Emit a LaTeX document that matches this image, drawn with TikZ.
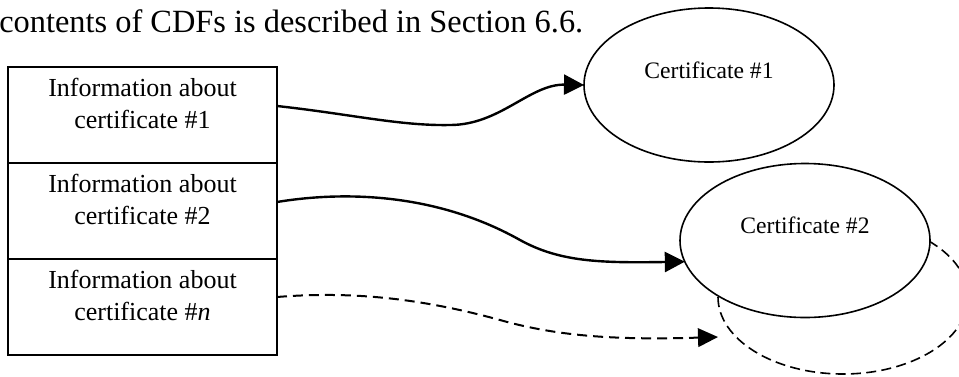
\documentclass[tikz,border=0pt]{standalone}
\usepackage{fontspec}
\setmainfont{Liberation Serif}
\usetikzlibrary{arrows.meta,shapes.geometric,positioning,calc}
\begin{document}
\begin{tikzpicture}[x=0.75pt,y=-0.75pt,
  cellbox/.style={draw,line width=1.1pt,minimum width=201.75pt,minimum height=72pt,inner sep=0pt,outer sep=0pt},
  celltext/.style={font=\fontsize{19.5pt}{24pt}\selectfont,align=center,inner sep=0pt,anchor=north},
  certnode/.style={ellipse,draw,line width=1.2pt,minimum width=187.5pt,minimum height=115.5pt,inner sep=0pt,outer sep=0pt,fill=white,font=\fontsize{17.7pt}{21pt}\selectfont,text height=12pt,text depth=22.5pt},
  ghostnode/.style={ellipse,draw,line width=1.2pt,dash pattern=on 7.5pt off 4pt,minimum width=187.5pt,minimum height=115.5pt,inner sep=0pt,outer sep=0pt},
  link/.style={line width=1.8pt,-{Triangle[length=15pt,width=15pt]}},
  dlink/.style={line width=1.5pt,dash pattern=on 7.5pt off 4.5pt,-{Triangle[length=15pt,width=14pt]}}
]
\useasboundingbox (0,0) rectangle (959,376);
\clip (0,0) rectangle (959,376);

\node[anchor=base west,inner sep=0pt,font=\fontsize{24.3pt}{29pt}\selectfont] (caption) at (-1,32) {contents of CDFs is described in Section 6.6.};

% table of certificate information
\node[cellbox] (info1) at (142.5,115) {};
\node[cellbox,below=0pt of info1] (info2) {};
\node[cellbox,below=0pt of info2] (info3) {};
\node[celltext] (t1) at ($(info1.north)+(0,11)$) {Information about\\certificate \#1};
\node[celltext] (t2) at ($(info2.north)+(0,11)$) {Information about\\certificate \#2};
\node[celltext] (t3) at ($(info3.north)+(0,11)$) {Information about\\certificate \#\textit{n}};

% certificates
\node[certnode] (c1) at (709,85) {Certificate \#1};
\node[ghostnode] (cn) at (843,297) {};
\node[certnode] (c2) at (805,240.5) {Certificate \#2};
\coordinate (cnin) at ($(cn.west)+(0,40)$);

% connectors
\draw[link] ($(info1.east)+(0,-9)$) .. controls (350,114) and (400,126) .. (450,125)
  .. controls (500,125) and (530,84) .. (c1.west);
\draw[link] ($(info2.east)+(0,-9)$) .. controls (350,190) and (440,195) .. (520,240)
  .. controls (560,262) and (600,263) .. (c2.190);
\draw[dlink] ($(info3.east)+(0,-10)$) .. controls (350,291) and (420,298) .. (500,320)
  .. controls (560,337) and (620,340) .. (cnin);
\end{tikzpicture}
\end{document}
